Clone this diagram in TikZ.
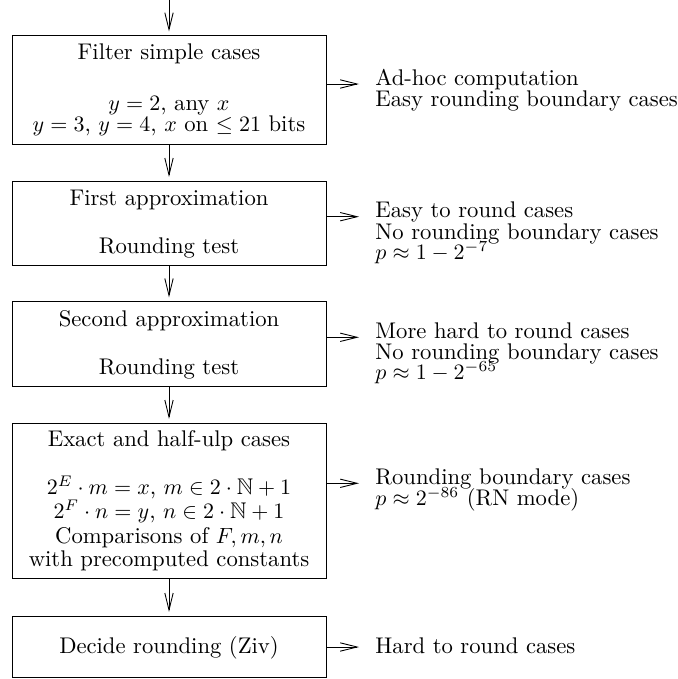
\documentclass[tikz,border=0pt]{standalone}
\usepackage{amssymb}
\usetikzlibrary{arrows.meta}
\def\pxu{0.4545pt}
\begin{document}
\begin{tikzpicture}[x=0.4545pt,y=-0.4545pt,
  every node/.style={font=\fontsize{10.3}{12}\selectfont},
  box/.style={draw, line width=0.4pt, inner sep=0pt, minimum width=314*\pxu},
  arr/.style={line width=0.4pt, -{Straight Barb[length=7.7pt,width=3.8pt]}},
  down/.style={arr, shorten >=1.7pt},
  ln/.style={anchor=base, inner sep=0pt},
  rt/.style={anchor=base west, inner sep=0pt}]
\useasboundingbox (0,0) rectangle (677,679);

% boxes
\node[box, minimum height=109*\pxu] (b1) at (169,89.5) {};
\node[box, minimum height=84*\pxu] (b2) at (169,223) {};
\node[box, minimum height=84.5*\pxu] (b3) at (169,343.75) {};
\node[box, minimum height=155.5*\pxu] (b4) at (169,500.75) {};
\node[box, minimum height=61*\pxu] (b5) at (169,646.5) {};

% box texts
\node[ln] (t1a) at (169,60) {Filter simple cases};
\node[ln] (t1b) at (169,110) {$y=2$, any $x$};
\node[ln] (t1c) at (169,131.7) {$y=3$, $y=4$, $x$ on $\leq 21$ bits};

\node[ln] (t2a) at (169,205) {First approximation};
\node[ln] (t2b) at (169,253.3) {Rounding test};

\node[ln] (t3a) at (169,326) {Second approximation};
\node[ln] (t3b) at (169,374) {Rounding test};

\node[ln] (t4a) at (169,446.7) {Exact and half-ulp cases};
\node[ln] (t4b) at (169,494.3) {$2^E\cdot m=x$, $m\in 2\cdot\mathbb{N}+1$};
\node[ln] (t4c) at (169,518.3) {$2^F\cdot n=y$, $n\in 2\cdot\mathbb{N}+1$};
\node[ln] (t4d) at (169,543.3) {Comparisons of $F,m,n$};
\node[ln] (t4e) at (169,566.7) {with precomputed constants};

\node[ln] (t5a) at (169,653.3) {Decide rounding (Ziv)};

% right texts
\node[rt] (r1a) at (375,85) {Ad-hoc computation};
\node[rt] (r1b) at (375,106.7) {Easy rounding boundary cases};

\node[rt] (r2a) at (375,217.5) {Easy to round cases};
\node[rt] (r2b) at (375,239) {No rounding boundary cases};
\node[rt] (r2c) at (375,259) {$p\approx 1-2^{-7}$};

\node[rt] (r3a) at (375,338) {More hard to round cases};
\node[rt] (r3b) at (375,359.5) {No rounding boundary cases};
\node[rt] (r3c) at (375,379.5) {$p\approx 1-2^{-65}$};

\node[rt] (r4a) at (375,484) {Rounding boundary cases};
\node[rt] (r4b) at (375,505) {$p\approx 2^{-86}$ (RN mode)};

\node[rt] (r5a) at (375,653) {Hard to round cases};

% vertical arrows
\coordinate (top) at (169,0);
\draw[arr, shorten >=1.4pt] (top) -- (b1.north);
\draw[down] (b1.south) -- (b2.north);
\draw[down] (b2.south) -- (b3.north);
\draw[down] (b3.south) -- (b4.north);
\draw[down] (b4.south) -- (b5.north);

% horizontal arrows
\coordinate (e1) at (359,84);
\coordinate (e2) at (359,216.7);
\coordinate (e3) at (359,337.3);
\coordinate (e4) at (359,483.3);
\coordinate (e5) at (359,647);
\draw[arr] (b1.east |- e1) -- (e1);
\draw[arr] (b2.east |- e2) -- (e2);
\draw[arr] (b3.east |- e3) -- (e3);
\draw[arr] (b4.east |- e4) -- (e4);
\draw[arr] (b5.east |- e5) -- (e5);
\end{tikzpicture}
\end{document}
